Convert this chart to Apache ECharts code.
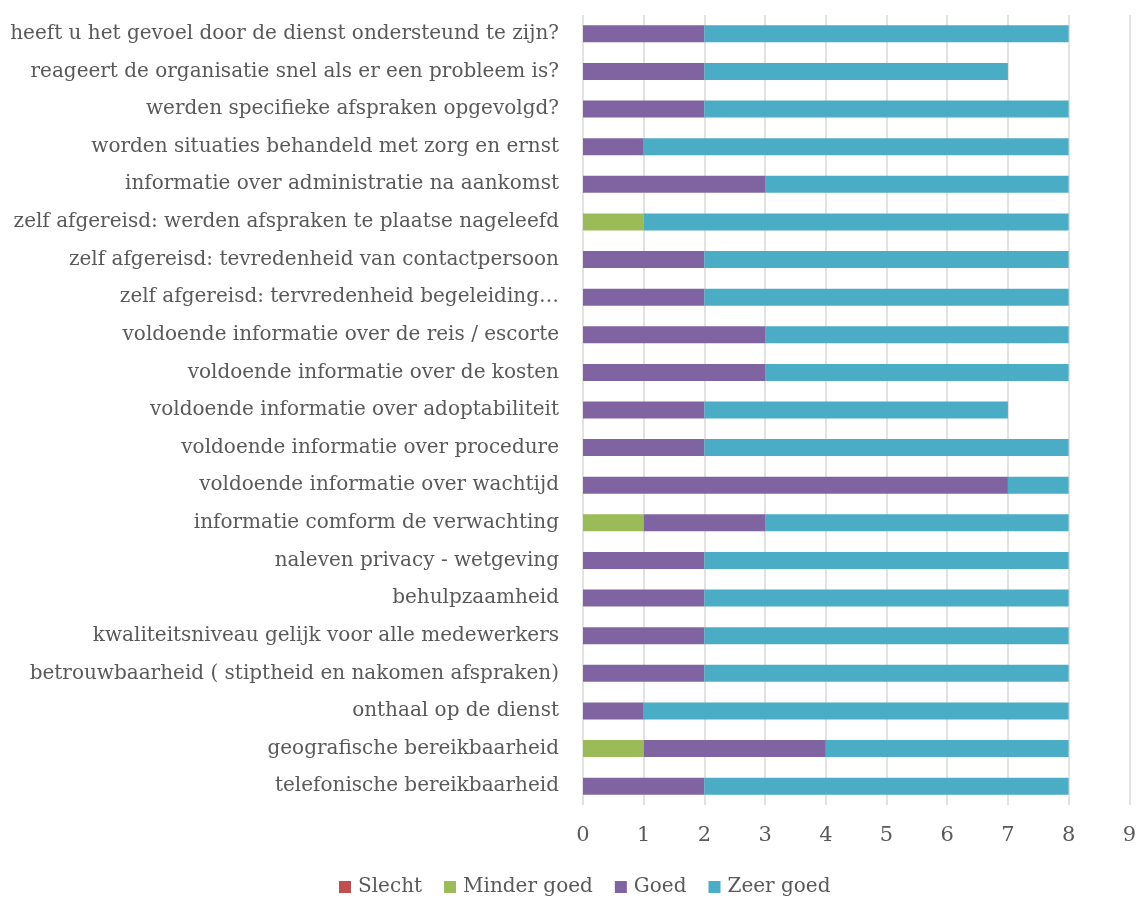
<!DOCTYPE html>
<html>
<head>
<meta charset="utf-8">
<script src="https://cdn.jsdelivr.net/npm/echarts@6/dist/echarts.min.js"></script>
<style>
html,body{margin:0;padding:0;background:#fff;}
#chart{width:1139px;height:900px;}
</style>
</head>
<body>
<div id="chart"></div>
<script>
const categories = [
  "telefonische bereikbaarheid",
  "geografische bereikbaarheid",
  "onthaal op de dienst",
  "betrouwbaarheid ( stiptheid en nakomen afspraken)",
  "kwaliteitsniveau gelijk voor alle medewerkers",
  "behulpzaamheid",
  "naleven privacy - wetgeving",
  "informatie comform de verwachting",
  "voldoende informatie over wachtijd",
  "voldoende informatie over procedure",
  "voldoende informatie over adoptabiliteit",
  "voldoende informatie over de kosten",
  "voldoende informatie over de reis / escorte",
  "zelf afgereisd: tervredenheid begeleiding…",
  "zelf afgereisd: tevredenheid van contactpersoon",
  "zelf afgereisd: werden afspraken te plaatse nageleefd",
  "informatie over administratie na aankomst",
  "worden situaties behandeld met zorg en ernst",
  "werden specifieke afspraken opgevolgd?",
  "reageert de organisatie snel als er een probleem is?",
  "heeft u het gevoel door de dienst ondersteund te zijn?"
];
const slecht     = [0,0,0,0,0,0,0,0,0,0,0,0,0,0,0,0,0,0,0,0,0];
const minderGoed = [0,1,0,0,0,0,0,1,0,0,0,0,0,0,0,1,0,0,0,0,0];
const goed       = [2,3,1,2,2,2,2,2,7,2,2,3,3,2,2,0,3,1,2,2,2];
const zeerGoed   = [6,4,7,6,6,6,6,5,1,6,5,5,5,6,6,7,5,7,6,5,6];
const xTicks = [0,1,2,3,4,5,6,7,8,9];

const FONT = "DejaVu Serif";
const TXT = "#595959";
const chart = echarts.init(document.getElementById('chart'));
function s(name, data, color){
  return {name, type:'bar', stack:'total', data, barWidth:17,
    itemStyle:{color}, emphasis:{disabled:true}};
}
chart.setOption({
  animation:false,
  textStyle:{fontFamily:FONT, color:TXT},
  grid:{left:583, right:8, top:15, bottom:95, containLabel:false},
  legend:{
    bottom:3, left:339, padding:0, itemWidth:12, itemHeight:12, itemGap:22,
    icon:'rect',
    textStyle:{fontFamily:FONT, fontSize:20, color:TXT, padding:[0,0,0,2]},
    data:['Slecht','Minder goed','Goed','Zeer goed']
  },
  xAxis:{
    type:'value', min:xTicks[0], max:xTicks[xTicks.length-1], interval:1,
    axisLine:{show:false}, axisTick:{show:false},
    splitLine:{show:true, lineStyle:{color:'#d9d9d9', width:1.5}},
    axisLabel:{fontFamily:FONT, fontSize:21, color:TXT, margin:20}
  },
  yAxis:{
    type:'category', data:categories,
    axisLine:{show:false}, axisTick:{show:false},
    axisLabel:{fontFamily:FONT, fontSize:20, color:TXT, margin:24}
  },
  series:[
    s('Slecht', slecht, '#C0504D'),
    s('Minder goed', minderGoed, '#9BBB59'),
    s('Goed', goed, '#8064A2'),
    s('Zeer goed', zeerGoed, '#4BACC6')
  ]
});
</script>
</body>
</html>
